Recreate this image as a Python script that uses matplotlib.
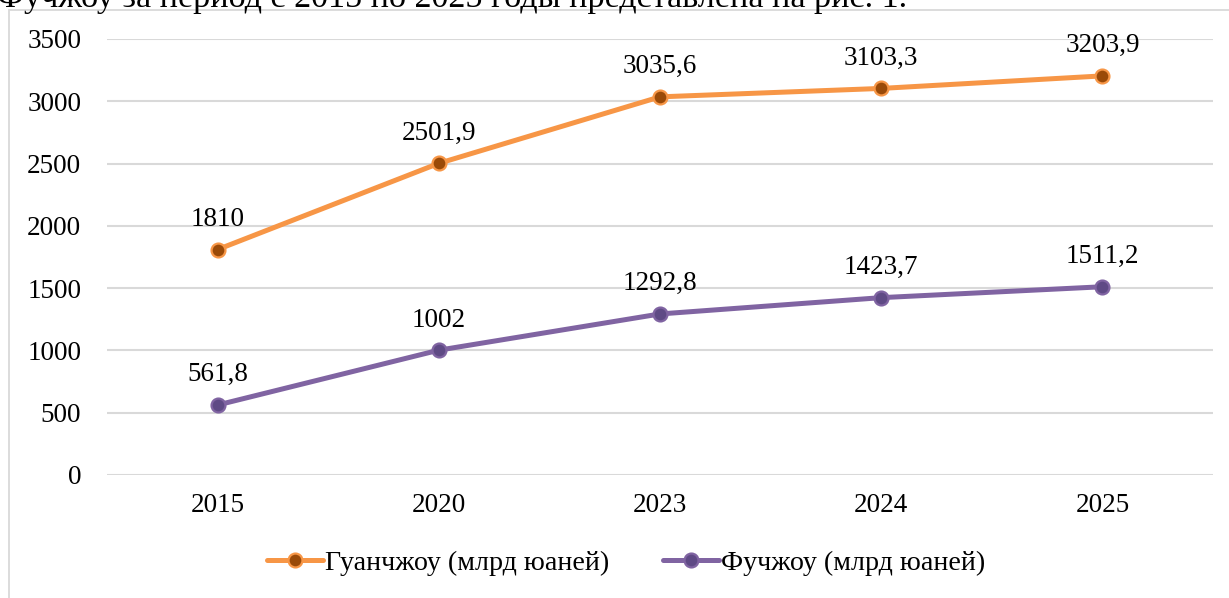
import matplotlib
matplotlib.use("Agg")
import matplotlib.pyplot as plt
from matplotlib.patches import Rectangle

# ---- data ----
years = ['2015', '2020', '2023', '2024', '2025']
guangzhou = [1810, 2501.9, 3035.6, 3103.3, 3203.9]
fuzhou = [561.8, 1002, 1292.8, 1423.7, 1511.2]
guangzhou_labels = ['1810', '2501,9', '3035,6', '3103,3', '3203,9']
fuzhou_labels = ['561,8', '1002', '1292,8', '1423,7', '1511,2']
y_ticks = [0, 500, 1000, 1500, 2000, 2500, 3000, 3500]
series_names = ['Гуанчжоу (млрд юаней)', 'Фучжоу (млрд юаней)']
top_text = 'Фучжоу за период с 2015 по 2025 годы представлена на рис. 1.'

FONT = ['Liberation Serif', 'DejaVu Serif']
plt.rcParams['font.family'] = FONT

W, H = 1229, 598
fig = plt.figure(figsize=(W / 100, H / 100), dpi=100)
fig.patch.set_facecolor('white')

# chart frame (light grey)
fig.patches.append(Rectangle((9 / W, -0.1), 1.2, (H - 10) / H + 0.1,
                             transform=fig.transFigure, fill=False,
                             edgecolor='#D9D9D9', lw=1.3, zorder=0))

# cropped document text above the chart
fs_top = 22
t = fig.text(-3 / W, 1 - 6.5 / H, top_text, fontsize=fs_top, va='baseline',
             ha='left', color='black')
fig.canvas.draw()
bb = t.get_window_extent(renderer=fig.canvas.get_renderer())
target = 905 + 3
t.set_fontsize(fs_top * target / bb.width)

ax = fig.add_axes([107 / W, 123 / H, 1106 / W, 436 / H])
x = list(range(len(years)))

ORANGE = '#F79646'
ORANGE_DARK = '#9A4A08'
PURPLE = '#8064A2'
PURPLE_DARK = '#5F4A85'

ax.plot(x, guangzhou, color=ORANGE, lw=3.6, marker='o', ms=10,
        mfc=ORANGE_DARK, mec=ORANGE, mew=1.6, solid_capstyle='round',
        label=series_names[0], zorder=3)
ax.plot(x, fuzhou, color=PURPLE, lw=3.6, marker='o', ms=10,
        mfc=PURPLE_DARK, mec=PURPLE, mew=1.6, solid_capstyle='round',
        label=series_names[1], zorder=3)

for i, (v, s) in enumerate(zip(guangzhou, guangzhou_labels)):
    ax.annotate(s, (i, v), xytext=(0, 17), textcoords='offset points',
                ha='center', va='baseline', fontsize=19.5)
for i, (v, s) in enumerate(zip(fuzhou, fuzhou_labels)):
    ax.annotate(s, (i, v), xytext=(0, 17), textcoords='offset points',
                ha='center', va='baseline', fontsize=19.5)

ax.set_xlim(-0.5, len(years) - 0.5)
ax.set_ylim(0, 3500)
ax.set_xticks(x)
ax.set_xticklabels(years)
ax.set_yticks(y_ticks)
ax.tick_params(axis='both', length=0, labelsize=19.5)
ax.tick_params(axis='y', pad=18.5)
ax.tick_params(axis='x', pad=13)
ax.yaxis.grid(True, color='#D9D9D9', lw=1.5)
ax.xaxis.grid(False)
ax.set_axisbelow(True)
for sp in ax.spines.values():
    sp.set_visible(False)

fig.legend(loc='center', bbox_to_anchor=(626 / W, (H - 563) / H),
           ncol=2, frameon=False, fontsize=20.2, handlelength=2.0,
           handletextpad=0.07, columnspacing=1.9, numpoints=1)

fig.savefig('out.png', dpi=100, facecolor='white')
